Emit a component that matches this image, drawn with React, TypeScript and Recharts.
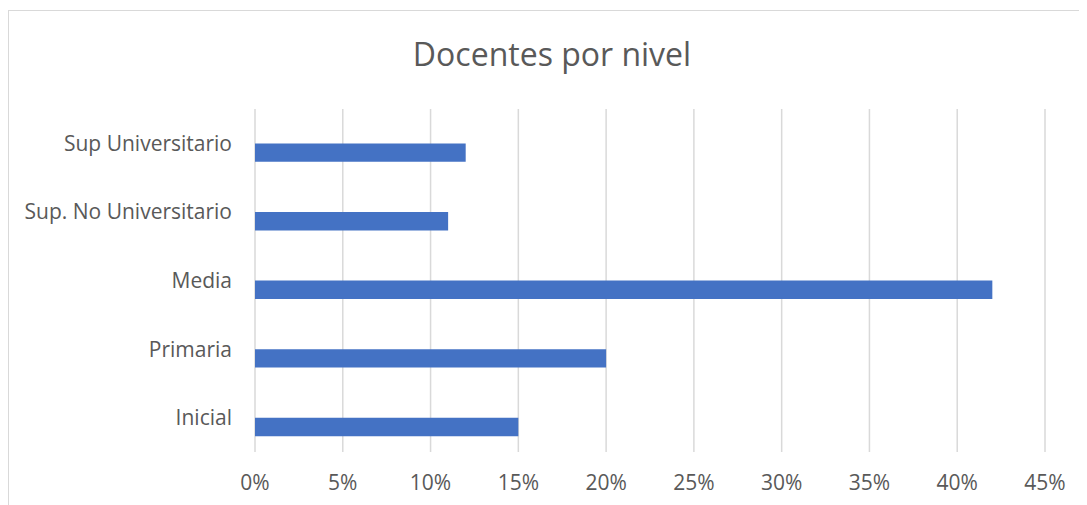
import React from 'react';
import { BarChart, Bar, XAxis, YAxis, CartesianGrid } from 'recharts';

// niveles, de arriba hacia abajo como en el original
const niveles = ['Sup Universitario', 'Sup. No Universitario', 'Media', 'Primaria', 'Inicial'];
const porcentajes = [12, 11, 42, 20, 15];
const ticksX = [0, 5, 10, 15, 20, 25, 30, 35, 40, 45];

const FONT = '"Open Sans", Lato, sans-serif';
const GRIS = '#595959';

const App: React.FC = () => {
  const data = React.useMemo(
    () => niveles.map((nivel, i) => ({ nivel, valor: porcentajes[i] })),
    []
  );

  return (
    <div
      style={{
        position: 'relative',
        marginTop: 2,
        width: 1078,
        height: 494,
        borderTop: '1px solid #d9d9d9',
        borderLeft: '1px solid #d9d9d9',
        background: '#fff',
        fontFamily: FONT,
      }}
    >
      <div
        style={{
          position: 'absolute',
          left: 0,
          width: 1086,
          top: 24,
          textAlign: 'center',
          fontSize: 32,
          color: GRIS,
          lineHeight: '38px',
        }}
      >
        Docentes por nivel
      </div>
      <BarChart
        width={1078}
        height={494}
        data={data}
        layout="vertical"
        margin={{ top: 98, right: 42, bottom: 23, left: 10 }}
        barGap={0}
      >
        <CartesianGrid horizontal={false} stroke="#d9d9d9" strokeWidth={1.5} />
        <XAxis
          type="number"
          domain={[0, 45]}
          ticks={ticksX}
          tickFormatter={(v: number) => `${v}%`}
          axisLine={false}
          tickLine={false}
          tickSize={0}
          tickMargin={23}
          height={30}
          tick={{ fill: GRIS, fontSize: 21, fontFamily: FONT }}
        />
        <YAxis
          type="category"
          dataKey="nivel"
          width={236}
          axisLine={false}
          tickLine={false}
          tickSize={0}
          tickMargin={23}
          tick={{ fill: GRIS, fontSize: 21, fontFamily: FONT }}
        />
        {/* serie vacía, como en Excel, que desplaza la barra real hacia abajo */}
        <Bar dataKey="vacio" barSize={18.4} isAnimationActive={false} />
        <Bar dataKey="valor" barSize={18.4} fill="#4472C4" isAnimationActive={false} />
      </BarChart>
    </div>
  );
};

export default App;
